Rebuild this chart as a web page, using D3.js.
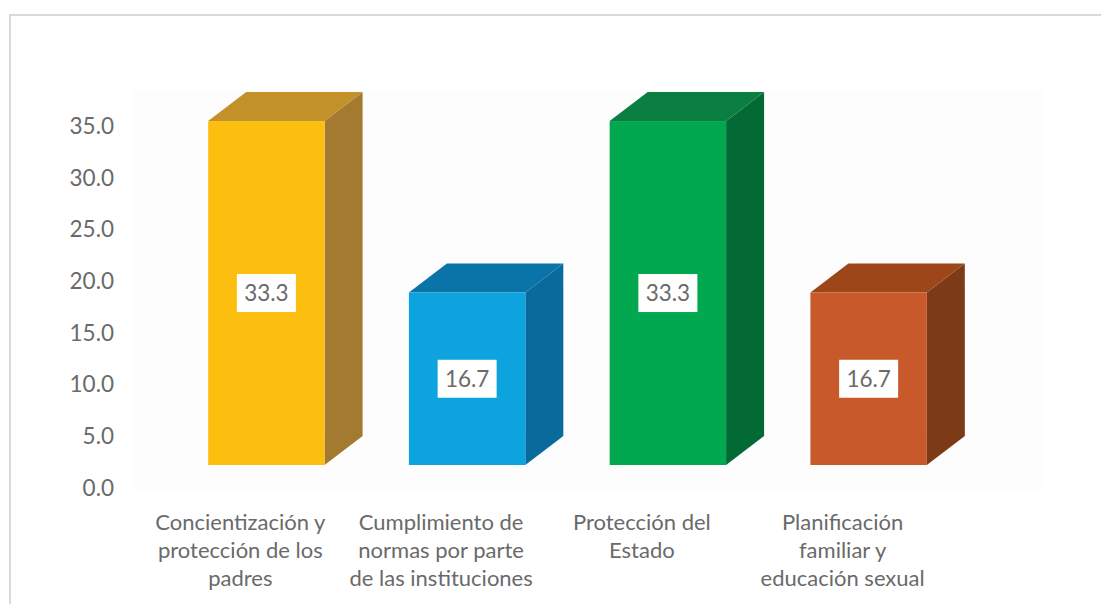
<!DOCTYPE html>
<html><head><meta charset="utf-8">
<script src="https://cdn.jsdelivr.net/npm/d3@7"></script>
<style>body{margin:0;background:#fff}svg{display:block}</style>
</head><body><svg id="c" width="1101" height="604"></svg>
<script>
const categories = [
  ["Concientización y","protección de los","padres"],
  ["Cumplimiento de","normas por parte","de las instituciones"],
  ["Protección del","Estado"],
  ["Planificación","familiar y","educación sexual"]
];
const values = [33.3, 16.7, 33.3, 16.7];
const labels = ["33.3", "16.7", "33.3", "16.7"];
const yTicks = [0, 5, 10, 15, 20, 25, 30, 35];
const frontColors = ["#FCBF10", "#0CA3DE", "#01A84F", "#C8592A"];
const topColors   = ["#C3912A", "#0A74A9", "#0A7F41", "#9D4619"];
const sideColors  = ["#A37A2F", "#086B9B", "#036A35", "#7C3A17"];

const svg = d3.select("#c");
const font = "Lato, 'Open Sans', sans-serif";
const textColor = "#6a6a6a";

// chart frame
svg.append("path").attr("d","M10,604 L10,15 L1101,15").attr("fill","none")
  .attr("stroke","#d9d9d9").attr("stroke-width",2);
// faint back wall
svg.append("rect").attr("x",132).attr("y",91).attr("width",911).attr("height",400).attr("fill","#fdfdfd");

const idx = d3.range(values.length);
const x = d3.scaleBand().domain(idx).range([140, 943]).paddingInner(0.42).paddingOuter(0.21);
const y = d3.scaleLinear().domain([0, 35]).range([488, 126.5]);

// y axis labels
const yAxis = d3.axisLeft(y).tickValues(yTicks).tickFormat(d3.format(".1f")).tickSize(0).tickPadding(0);
const ga = svg.append("g").attr("transform","translate(114,0)").call(yAxis);
ga.select(".domain").remove();
ga.selectAll("text").attr("font-family",font).attr("font-size",22.5).attr("fill",textColor);

const shiftX = 26;       // front face offset relative to label band
const floorShift = -23;  // front face floor vs axis zero
const dx = 38, dy = -29;

const bars = svg.append("g");
idx.forEach(i => {
  const x0 = x(i) + shiftX, w = x.bandwidth();
  const y0 = y(0) + floorShift, y1 = y(values[i]) + floorShift;
  bars.append("path").attr("d",`M${x0+w},${y1} L${x0+w+dx},${y1+dy} L${x0+w+dx},${y0+dy} L${x0+w},${y0} Z`)
    .attr("fill", sideColors[i]);
  bars.append("path").attr("d",`M${x0},${y1} L${x0+dx},${y1+dy} L${x0+w+dx},${y1+dy} L${x0+w},${y1} Z`)
    .attr("fill", topColors[i]);
  bars.append("rect").attr("x",x0).attr("y",y1).attr("width",w).attr("height",y0-y1).attr("fill",frontColors[i]);
  const cx = x0 + w/2, cy = (y0+y1)/2;
  bars.append("rect").attr("x",cx-29.5).attr("y",cy-19).attr("width",59).attr("height",38).attr("fill","#fff");
  bars.append("text").attr("x",cx).attr("y",cy).attr("dy","0.36em").attr("text-anchor","middle")
    .attr("font-family",font).attr("font-size",22.5).attr("fill",textColor).text(labels[i]);
});

// category labels
const gx = svg.append("g");
idx.forEach(i => {
  const t = gx.append("text").attr("text-anchor","middle").attr("font-family",font)
    .attr("font-size",22).attr("fill",textColor);
  categories[i].forEach((line, k) => {
    t.append("tspan").attr("x", x(i) + x.bandwidth()/2).attr("y", 530 + k*28).text(line);
  });
});
</script>
</body></html>
